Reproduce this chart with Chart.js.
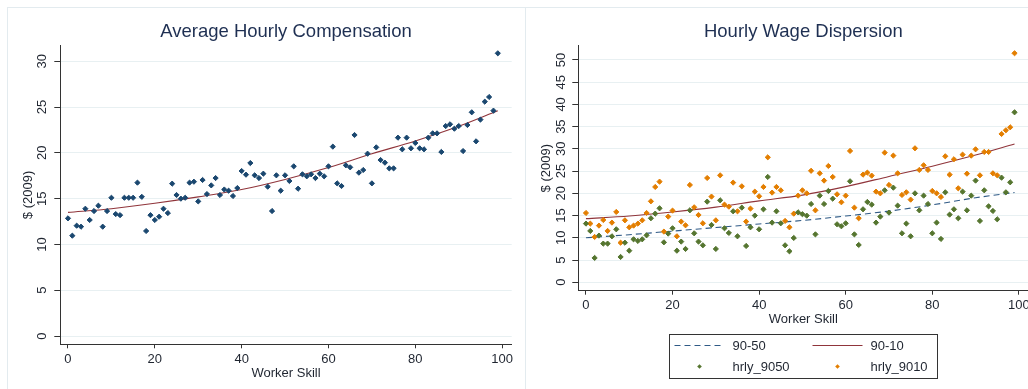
<!DOCTYPE html>
<html>
<head>
<meta charset="utf-8">
<script src="https://cdn.jsdelivr.net/npm/chart.js@4.4.1/dist/chart.umd.min.js"></script>
<style>
  html, body { margin: 0; padding: 0; background: #fff; overflow: hidden; }
  #wrap { position: relative; width: 1028px; height: 389px; overflow: hidden; }
  #frame { position: absolute; left: 7px; top: 7px; width: 1040px; height: 400px;
           border-left: 1px solid #e3ebef; border-top: 1px solid #e3ebef; }
  #divider { position: absolute; left: 525px; top: 7px; width: 1px; height: 382px; background: #e3ebef; }
  #leftChart { position: absolute; left: 0; top: 0; }
  #rightChart { position: absolute; left: 520px; top: 0; }
</style>
</head>
<body>
<div id="wrap">
  <div id="frame"></div>
  <div id="divider"></div>
  <canvas id="leftChart" width="520" height="389"></canvas>
  <canvas id="rightChart" width="512" height="389"></canvas>
</div>
<script>
// worker skill percentile (x) for every point
var skill = [0, 1, 2, 3, 4, 5, 6, 7, 8, 9, 10, 11, 12, 13, 14, 15, 16, 17, 18, 19,
  20, 21, 22, 23, 24, 25, 26, 27, 28, 29, 30, 31, 32, 33, 34, 35, 36, 37, 38, 39,
  40, 41, 42, 43, 44, 45, 46, 47, 48, 49, 50, 51, 52, 53, 54, 55, 56, 57, 58, 59,
  60, 61, 62, 63, 64, 65, 66, 67, 68, 69, 70, 71, 72, 73, 74, 75, 76, 77, 78, 79,
  80, 81, 82, 83, 84, 85, 86, 87, 88, 89, 90, 91, 92, 93, 94, 95, 96, 97, 98, 99];

// left panel: average hourly compensation
var avgComp = [12.85, 10.96, 12.05, 11.94, 13.9, 12.67, 13.65, 14.23, 11.94, 13.65,
  15.1, 13.32, 13.2, 15.1, 15.1, 15.1, 16.75, 15.2, 11.47, 13.2,
  12.67, 13.03, 13.9, 13.43, 16.64, 15.4, 15.0, 15.1, 16.75, 16.85,
  14.7, 17.04, 15.5, 16.45, 17.25, 15.4, 16.0, 15.87, 15.29, 16.16,
  18.02, 17.62, 18.89, 17.55, 17.25, 17.73, 16.31, 13.65, 17.55, 15.87,
  17.55, 16.93, 18.53, 16.09, 17.66, 17.44, 17.66, 17.25, 17.73, 17.44,
  18.53, 20.68, 16.67, 16.38, 18.64, 18.42, 21.95, 17.84, 18.13, 19.91,
  16.67, 20.6, 19.22, 18.93, 18.31, 18.31, 21.66, 20.39, 21.66, 20.5,
  21.08, 20.5, 20.39, 21.66, 22.13, 22.13, 20.1, 22.93, 23.12, 22.64,
  22.93, 20.2, 23.04, 24.43, 21.26, 23.63, 25.59, 26.1, 24.61, 30.87];

// right panel: wage dispersion
var hrly9050 = [13.19, 11.54, 5.47, 10.49, 8.69, 8.69, 10.34, 11.91, 5.69, 8.9,
  7.1, 9.66, 9.29, 9.66, 10.56, 14.39, 15.43, 16.63, 8.98, 10.94,
  12.14, 7.1, 9.14, 7.49, 16.18, 11.01, 9.14, 8.31, 18.13, 12.89,
  7.49, 18.43, 12.14, 11.09, 15.96, 10.34, 16.78, 8.16, 12.36, 14.99,
  11.91, 16.41, 23.68, 13.41, 15.96, 13.26, 8.31, 6.96, 9.96, 15.73,
  15.3, 14.98, 17.6, 10.77, 19.48, 17.6, 20.53, 18.8, 13.04, 12.59,
  13.26, 22.71, 10.77, 8.39, 16.41, 18.06, 17.46, 13.41, 14.76, 20.68,
  15.66, 21.28, 17.23, 11.01, 13.19, 10.34, 20.0, 16.18, 19.48, 17.6,
  11.01, 13.41, 9.74, 20.23, 15.21, 16.41, 14.39, 20.38, 16.18, 19.48,
  22.86, 13.79, 20.68, 17.08, 16.03, 14.16, 23.53, 20.23, 22.48, 38.22];

var hrly9010 = [15.58, 13.19, 10.19, 12.74, 14.0, 11.54, 13.41, 15.81, 8.9, 13.93,
  12.36, 12.74, 13.19, 13.93, 15.58, 18.2, 21.43, 22.63, 11.39, 14.76,
  16.11, 10.34, 13.64, 12.81, 21.88, 16.86, 15.13, 13.26, 23.45, 19.26,
  13.93, 24.05, 17.46, 17.0, 22.41, 15.96, 21.58, 13.64, 16.56, 20.38,
  19.33, 21.43, 28.1, 20.16, 21.43, 20.68, 13.79, 12.36, 15.43, 19.48,
  20.68, 20.0, 25.07, 16.18, 24.5, 22.86, 26.15, 23.68, 19.78, 17.99,
  19.48, 29.53, 16.78, 14.39, 24.2, 24.66, 23.98, 20.38, 20.0, 29.15,
  21.88, 28.48, 24.5, 19.63, 20.23, 18.58, 30.13, 25.26, 26.31, 25.26,
  20.53, 20.0, 19.18, 28.33, 24.2, 27.66, 21.13, 28.7, 24.42, 28.48,
  29.9, 24.05, 29.3, 29.3, 24.5, 24.05, 33.35, 34.18, 34.85, 51.5];

var fitSkill = [0, 10, 20, 30, 40, 50, 60, 70, 80, 90, 99];
var fitAvg = [13.5, 13.9, 14.5, 15.2, 16.0, 17.1, 18.4, 19.9, 21.3, 22.9, 24.6];
var fit9050 = [10.0, 10.7, 11.5, 12.3, 13.1, 13.9, 14.9, 16.0, 17.4, 19.0, 20.2];
var fit9010 = [14.3, 14.9, 15.8, 16.9, 18.3, 19.6, 21.5, 23.8, 26.1, 28.6, 31.1];

// tick labels
var xTicks = [0, 20, 40, 60, 80, 100];
var yTicksLeft = [0, 5, 10, 15, 20, 25, 30];
var yTicksRight = [0, 5, 10, 15, 20, 25, 30, 35, 40, 45, 50];

var FONT = '"Liberation Sans", Arial, sans-serif';
var INK = '#1f2530';
var NAVY = '#1a476f', MAROON = '#90353b', GREEN = '#55752f', ORANGE = '#e37e00';

function pts(xs, ys) {
    return xs.map(function (x, i) { return { x: x, y: ys[i] }; });
}

function scatterSet(label, ys, color) {
    return {
        label: label, data: pts(skill, ys), order: 0,
        pointStyle: 'rectRot', pointRadius: 2.6, pointHoverRadius: 2.6,
        backgroundColor: color, borderColor: color, borderWidth: 1
    };
}

function fitSet(label, ys, color, dash) {
    return {
        type: 'line', label: label, data: pts(fitSkill, ys), order: 1,
        borderColor: color, borderWidth: 1.1, borderDash: dash || [],
        pointRadius: 0, fill: false, cubicInterpolationMode: 'monotone'
    };
}

// boxed 2x2 legend under the right panel, like the Stata one
var boxLegend = {
    id: 'boxLegend',
    afterDraw: function (chart) {
        var o = chart.options.plugins.boxLegend;
        if (!o || !o.display) return;
        var ctx = chart.ctx, area = chart.chartArea;
        var w = 268, h = 44;
        var left = Math.round((area.left + area.right) / 2 - w / 2);
        var top = Math.round(area.bottom + 43.6);
        ctx.save();
        ctx.fillStyle = '#fff';
        ctx.fillRect(left, top, w, h);
        ctx.strokeStyle = '#333';
        ctx.lineWidth = 1;
        ctx.strokeRect(left + 0.5, top + 0.5, w, h);
        ctx.font = '13px ' + FONT;
        ctx.textBaseline = 'middle';
        ctx.textAlign = 'left';
        chart.data.datasets.forEach(function (ds, i) {
            var col = i % 2, row = Math.floor(i / 2);
            var x0 = left + 5.5 + col * 138;
            var y = top + 11.5 + row * 21;
            if (ds.type === 'line') {
                ctx.strokeStyle = ds.borderColor;
                ctx.lineWidth = 1;
                ctx.setLineDash(ds.borderDash || []);
                ctx.beginPath();
                ctx.moveTo(x0, y);
                ctx.lineTo(x0 + 50, y);
                ctx.stroke();
                ctx.setLineDash([]);
            } else {
                var r = 2.3, cx = x0 + 25;
                ctx.fillStyle = ds.backgroundColor;
                ctx.beginPath();
                ctx.moveTo(cx - r, y); ctx.lineTo(cx, y - r);
                ctx.lineTo(cx + r, y); ctx.lineTo(cx, y + r);
                ctx.closePath();
                ctx.fill();
            }
            ctx.fillStyle = INK;
            ctx.fillText(ds.label, x0 + 58, y + 0.5);
        });
        ctx.restore();
    }
};

function makeOptions(p) {
    return {
        responsive: false,
        animation: false,
        devicePixelRatio: 1,
        layout: { padding: { left: 0, top: 0, right: p.padRight, bottom: p.padBottom } },
        plugins: {
            legend: { display: false },
            tooltip: { enabled: false },
            boxLegend: { display: p.boxLegend },
            title: {
                display: true, text: p.title, fullSize: false, color: '#1e2f52',
                font: { family: FONT, size: 18.5, weight: 'normal' },
                padding: { top: 20.9, bottom: 2.6 }
            }
        },
        scales: {
            x: {
                type: 'linear', position: 'bottom', min: -1.77, max: 102.2,
                afterBuildTicks: function (s) { s.ticks = xTicks.map(function (v) { return { value: v }; }); },
                afterFit: function (s) { s.height = 44.7; s.paddingLeft = 0; s.paddingRight = 0; },
                border: { color: '#333', width: 1 },
                grid: { drawOnChartArea: false, tickColor: '#333', tickLength: 4 },
                ticks: { color: INK, padding: 3, maxRotation: 0, font: { family: FONT, size: 13 } },
                title: {
                    display: true, text: 'Worker Skill', color: INK,
                    font: { family: FONT, size: 13 }, padding: { top: 0, bottom: 8.2 }
                }
            },
            y: {
                type: 'linear', position: 'left', min: p.yMin, max: p.yMax,
                afterBuildTicks: function (s) { s.ticks = p.yTicks.map(function (v) { return { value: v }; }); },
                afterFit: function (s) { s.width = p.axisX; s.paddingTop = 0; s.paddingBottom = 0; },
                border: { color: '#333', width: 1 },
                grid: { color: '#e8f0f2', lineWidth: 1, tickColor: '#333', tickLength: 6 },
                ticks: {
                    color: INK, minRotation: 90, maxRotation: 90, crossAlign: 'center',
                    padding: p.tickPad, font: { family: FONT, size: 13 }
                },
                title: {
                    display: true, text: '$ (2009)', color: INK,
                    font: { family: FONT, size: 13 }, padding: { top: p.titlePad, bottom: 0 }
                }
            }
        }
    };
}

new Chart(document.getElementById('leftChart'), {
    type: 'scatter',
    data: {
        datasets: [
            fitSet('Fitted values', fitAvg, MAROON),
            scatterSet('avg_comp', avgComp, NAVY)
        ]
    },
    options: makeOptions({
        title: 'Average Hourly Compensation', yMin: -0.9, yMax: 31.7, yTicks: yTicksLeft,
        axisX: 60.3, padRight: 8.3, padBottom: 0, tickPad: 4.5, titlePad: 20.2, boxLegend: false
    })
});

new Chart(document.getElementById('rightChart'), {
    type: 'scatter',
    data: {
        datasets: [
            fitSet('90-50', fit9050, '#2f5a86', [6, 4]),
            fitSet('90-10', fit9010, MAROON),
            scatterSet('hrly_9050', hrly9050, GREEN),
            scatterSet('hrly_9010', hrly9010, ORANGE)
        ]
    },
    options: makeOptions({
        title: 'Hourly Wage Dispersion', yMin: -1.9, yMax: 53.2, yTicks: yTicksRight,
        axisX: 58.3, padRight: 2.5, padBottom: 53.6, tickPad: 4, titlePad: 18.2, boxLegend: true
    }),
    plugins: [boxLegend]
});
</script>
</body>
</html>
